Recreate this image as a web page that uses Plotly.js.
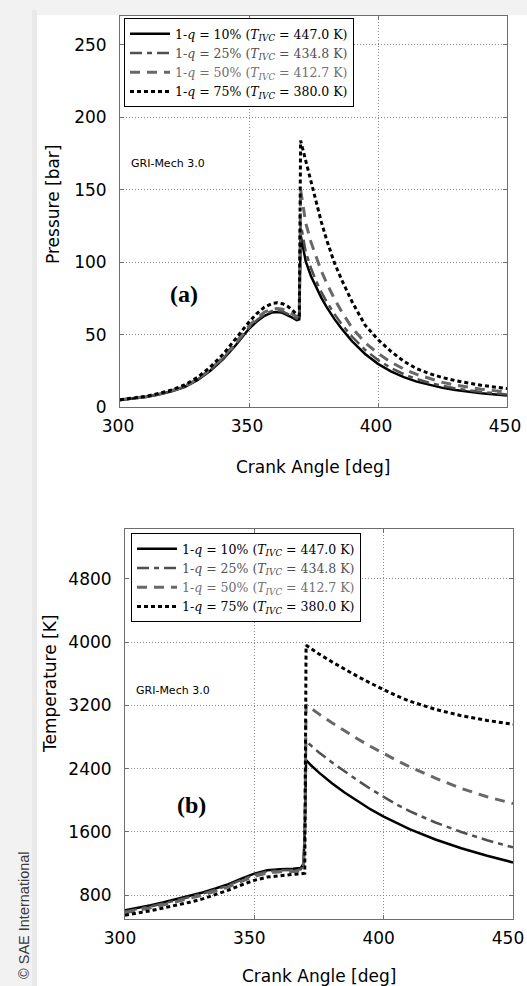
<!DOCTYPE html>
<html>
<head>
<meta charset="utf-8">
<script src="https://cdn.plot.ly/plotly-3.0.1.min.js"></script>
<style>html,body{margin:0;padding:0;background:#f2f2f2;}#chart{width:527px;height:986px;}</style>
</head>
<body>
<div id="chart"></div>
<script>
// ---- data ----
const crankP = [300,305,310,315,320,325,330,335,340,345,350,353,356,359,361,363,365,367,368.5,369.5,370,371,372,374,376,378,380,383,386,390,395,400,405,410,415,420,425,430,440,450];
const pressure10 = [4.8,5.8,6.9,8.6,10.8,13.8,18.5,25,33,43,54,59,63,65.3,65.6,65,63.5,61.5,60,60.5,119,108.5,100.5,90.5,82.5,75.5,69.3,61,53.8,45.3,36.6,29.8,24.6,20.6,17.5,15.1,13.2,11.7,9.5,7.9];
const pressure25 = [4.9,5.9,7.0,8.7,11.0,14.0,18.8,25.4,33.5,43.6,54.8,60,64,66.3,66.6,66,64.5,62.5,61,61.5,127,116,107,96,87,79.5,73,64.5,57,48.5,39.5,32.5,27,22.7,19.3,16.6,14.5,12.8,10.4,8.7];
const pressure50 = [5.0,6.0,7.1,8.9,11.2,14.3,19.2,26,34.3,44.8,56,61.5,65.5,67.8,68,67.5,66,64,62.5,63,150,137.5,127,114,103.5,94,86,75,65.5,54.5,44.5,37,31,26.2,22.5,19.5,17,15.1,12.3,10.3];
const pressure75 = [5.0,6.2,7.4,9.3,11.8,15.2,20.4,27.6,36.5,47.5,58.7,64.5,69,71.5,72,71.3,69.5,66.5,64,63.5,184,177,170,155.5,141.5,128,116,100,87.5,72.5,56.5,46.5,38.5,31.5,26.5,23,20.3,18.2,15,12.7];

const crankT = [300,305,310,315,320,325,330,335,340,345,350,355,360,365,368,369,369.5,370,372,375,380,385,390,395,400,405,410,420,430,440,450];
const temp10 = [611,640,675,712,750,790,835,885,940,1010,1074,1115,1130,1135,1145,1200,1600,2510,2440,2350,2215,2095,1985,1885,1795,1712,1637,1505,1395,1300,1215];
const temp25 = [595,625,660,697,735,775,820,870,925,995,1058,1100,1115,1120,1128,1180,1550,2746,2685,2605,2480,2362,2250,2142,2040,1947,1863,1720,1600,1495,1405];
const temp50 = [580,610,643,680,718,758,802,852,907,975,1040,1082,1097,1102,1110,1160,1500,3210,3160,3090,2980,2875,2775,2680,2590,2505,2425,2280,2150,2045,1960];
const temp75 = [548,575,605,640,675,712,755,805,865,930,989,1030,1050,1065,1072,1075,1078,3960,3915,3850,3750,3655,3565,3480,3400,3320,3255,3150,3070,3010,2962];

const residuals = ['10%','25%','50%','75%'];
const tIVC = ['447.0','434.8','412.7','380.0'];
const xTicks = [300,350,400,450];
const pTicks = [0,50,100,150,200,250];
const tTicks = [800,1600,2400,3200,4000,4800];

// ---- styles ----
const colors = ['#000000','#505050','#686868','#000000'];
const textColors = ['#000000','#505050','#707070','#000000'];
const dashes = ['solid','12px,5px,5px,5px','10px,7px','4px,3px'];
const widths = [2.5,2.5,3,3];

function label(i){
  return '<span style="color:'+textColors[i]+'">1-<i>q</i> = '+residuals[i]+' (<i>T</i><sub><i>IVC</i></sub> = '+tIVC[i]+' K)</span>';
}

const pSeries = [pressure10,pressure25,pressure50,pressure75];
const tSeries = [temp10,temp25,temp50,temp75];
const traces = [];
pSeries.forEach((y,i)=>traces.push({x:crankP,y:y,type:'scatter',mode:'lines',xaxis:'x',yaxis:'y',
  name:label(i),legend:'legend',line:{color:colors[i],dash:dashes[i],width:widths[i]}}));
tSeries.forEach((y,i)=>traces.push({x:crankT,y:y,type:'scatter',mode:'lines',xaxis:'x2',yaxis:'y2',
  name:label(i),legend:'legend2',line:{color:colors[i],dash:dashes[i],width:widths[i]}}));

const W=527,H=986;
const px=v=>v/W, py=v=>1-v/H;
const tickFont={family:'DejaVu Sans',size:17,color:'#000'};
const axBase={showline:true,mirror:'ticks',linecolor:'#6e6e6e',linewidth:1,ticks:'inside',ticklen:4,tickcolor:'#6e6e6e',
  showgrid:true,gridcolor:'#8a8a8a',griddash:'1px,2px',gridwidth:1,zeroline:false,tickfont:tickFont,fixedrange:true,
  ticklabeloverflow:'allow'};

const legendBase={bgcolor:'#ffffff',bordercolor:'#000',borderwidth:1,xanchor:'left',yanchor:'top',
  font:{family:'DejaVu Serif',size:12.5,color:'#000'},itemwidth:40,tracegroupgap:0};

const ann=(x,y,text,font,extra)=>Object.assign({xref:'paper',yref:'paper',x:px(x),y:py(y),text:text,showarrow:false,
  xanchor:'center',yanchor:'middle',font:font},extra||{});
const sans17={family:'DejaVu Sans',size:17,color:'#000'};

const layout={
  width:W,height:H,margin:{l:0,r:0,t:0,b:0},
  paper_bgcolor:'#f2f2f2',plot_bgcolor:'#ffffff',
  xaxis:Object.assign({},axBase,{domain:[px(120),px(507)],range:[300,450],tickvals:xTicks,anchor:'y',ticklabelstandoff:4,ticklabelshift:-2}),
  yaxis:Object.assign({},axBase,{domain:[py(407),py(16)],range:[0,270],tickvals:pTicks,anchor:'x',ticklabelstandoff:9}),
  xaxis2:Object.assign({},axBase,{domain:[px(125),px(513)],range:[300,450],tickvals:xTicks,anchor:'y2',ticklabelstandoff:4,ticklabelshift:-5}),
  yaxis2:Object.assign({},axBase,{domain:[py(919),py(529)],range:[500,5430],tickvals:tTicks,anchor:'x2',ticklabelstandoff:9}),
  legend:Object.assign({},legendBase,{x:px(124),y:py(18)}),
  legend2:Object.assign({},legendBase,{x:px(131),y:py(533)}),
  shapes:[
    {type:'rect',xref:'paper',yref:'paper',x0:px(37),x1:1,y0:0,y1:py(15),fillcolor:'#ffffff',line:{width:0},layer:'below'},
    {type:'rect',xref:'paper',yref:'paper',x0:px(32),x1:px(37),y0:0,y1:py(10),fillcolor:'#e9e9e9',line:{width:0},layer:'below'}
  ],
  annotations:[
    ann(313,467,'Crank Angle [deg]',sans17),
    ann(319,976,'Crank Angle [deg]',sans17),
    ann(53,205,'Pressure [bar]',sans17,{textangle:-90}),
    ann(50,684,'Temperature [K]',sans17,{textangle:-90}),
    ann(168,163,'GRI-Mech 3.0',{family:'DejaVu Sans',size:11,color:'#000'}),
    ann(173,690,'GRI-Mech 3.0',{family:'DejaVu Sans',size:11,color:'#000'}),
    ann(184,294,'<b>(a)</b>',{family:'Liberation Serif',size:24,color:'#000'}),
    ann(191,805,'<b>(b)</b>',{family:'Liberation Serif',size:24,color:'#000'}),
    ann(24,915,'© SAE International',{family:'Liberation Sans',size:14.5,color:'#3a3a3a'},{textangle:-90})
  ]
};

Plotly.newPlot('chart',traces,layout,{displayModeBar:false,staticPlot:true});
</script>
</body>
</html>
